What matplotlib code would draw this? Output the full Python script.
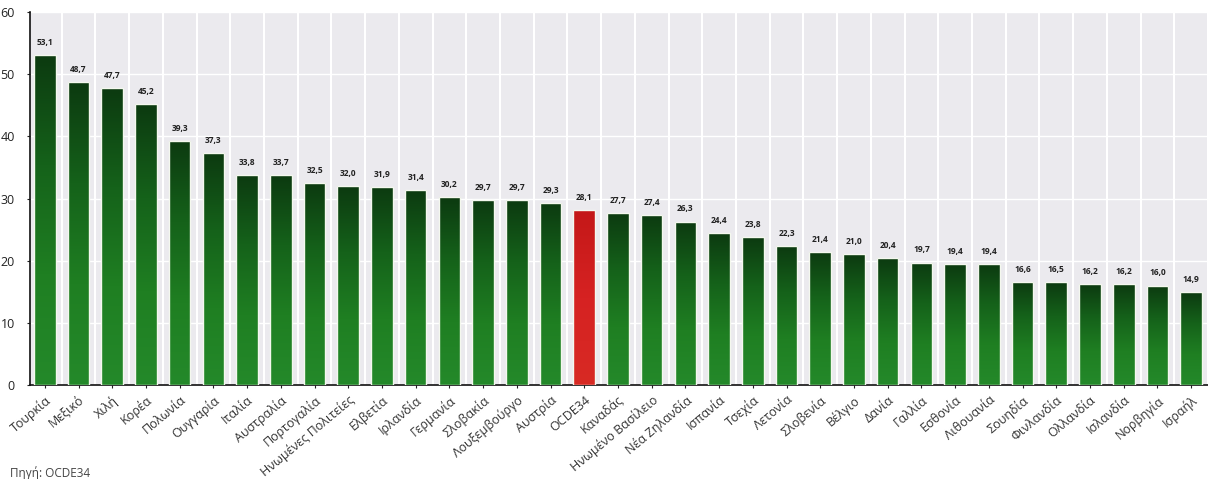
import matplotlib
matplotlib.use("Agg")
import matplotlib.pyplot as plt
import numpy as np
from matplotlib.colors import LinearSegmentedColormap

countries = ["Τουρκία", "Μεξικό", "Χιλή", "Κορέα", "Πολωνία", "Ουγγαρία", "Ιταλία",
             "Αυστραλία", "Πορτογαλία", "Ηνωμένες Πολιτείες", "Ελβετία", "Ιρλανδία",
             "Γερμανία", "Σλοβακία", "Λουξεμβούργο", "Αυστρία", "OCDE34", "Καναδάς",
             "Ηνωμένο Βασίλειο", "Νέα Ζηλανδία", "Ισπανία", "Τσεχία", "Λετονία",
             "Σλοβενία", "Βέλγιο", "Δανία", "Γαλλία", "Εσθονία", "Λιθουανία",
             "Σουηδία", "Φινλανδία", "Ολλανδία", "Ισλανδία", "Νορβηγία", "Ισραήλ"]
values = [53.1, 48.7, 47.7, 45.2, 39.3, 37.3, 33.8, 33.7, 32.5, 32.0, 31.9, 31.4,
          30.2, 29.7, 29.7, 29.3, 28.1, 27.7, 27.4, 26.3, 24.4, 23.8, 22.3, 21.4,
          21.0, 20.4, 19.7, 19.4, 19.4, 16.6, 16.5, 16.2, 16.2, 16.0, 14.9]
value_labels = ["53,1", "48,7", "47,7", "45,2", "39,3", "37,3", "33,8", "33,7", "32,5",
                "32,0", "31,9", "31,4", "30,2", "29,7", "29,7", "29,3", "28,1", "27,7",
                "27,4", "26,3", "24,4", "23,8", "22,3", "21,4", "21,0", "20,4", "19,7",
                "19,4", "19,4", "16,6", "16,5", "16,2", "16,2", "16,0", "14,9"]
highlight = "OCDE34"
yticks = [0, 10, 20, 30, 40, 50, 60]
ytick_labels = ["0", "10", "20", "30", "40", "50", "60"]
source = "Πηγή: OCDE34"

plt.rcParams['font.family'] = ['Open Sans', 'DejaVu Sans']

fig = plt.figure(figsize=(12.08, 4.79), dpi=100)
fig.patch.set_facecolor("white")
ax = fig.add_axes([30/1208, (479-385)/479, 1 - 30/1208, (385-12)/479])
ax.set_facecolor("#ebeaee")

x = np.arange(len(countries))
bars = ax.bar(x, values, width=0.64, color="#145c16", edgecolor="#f4f8ee",
              linewidth=1.0, zorder=3)

green_cmap = LinearSegmentedColormap.from_list("g", ["#0c3a10", "#15621a", "#1f7f22", "#24892a"])
red_cmap = LinearSegmentedColormap.from_list("r", ["#c41818", "#d62222", "#d82a24"])
grad = np.linspace(0, 1, 256).reshape(-1, 1)
for b, c in zip(bars, countries):
    x0, w, h = b.get_x(), b.get_width(), b.get_height()
    cm = red_cmap if c == highlight else green_cmap
    im = ax.imshow(grad, cmap=cm, aspect="auto", extent=[x0, x0 + w, 0, h],
                   origin="upper", zorder=3.5)
    im.set_clip_path(b)
    b.set_facecolor("none")
    b.set_zorder(4)

for xi, v, lab in zip(x, values, value_labels):
    ax.text(xi, v + 1.3, lab, ha="center", va="bottom", fontsize=6,
            fontweight="bold", color="#222222", zorder=5)

ax.set_xlim(-0.44, 34.15)
ax.set_ylim(0, 60)
ax.set_yticks(yticks)
ax.set_yticklabels(ytick_labels, fontsize=9, color="#222222")
ax.set_xticks(x)
ax.set_xticklabels(countries, rotation=40, ha="right", rotation_mode="anchor",
                   fontsize=9, color="#333333")
ax.tick_params(axis="x", length=2, pad=4, color="#222222")
ax.tick_params(axis="y", length=2, pad=9, color="#222222")

ax.set_xticks(x + 0.5, minor=True)
ax.grid(which="minor", axis="x", color="white", linewidth=1.5, zorder=1)
ax.grid(which="major", axis="y", color="white", linewidth=1.0, zorder=1)
ax.tick_params(which="minor", length=0)

for s in ["top", "right"]:
    ax.spines[s].set_visible(False)
ax.spines["left"].set_color("#111111")
ax.spines["bottom"].set_color("#111111")
ax.spines["left"].set_linewidth(1.2)
ax.spines["bottom"].set_linewidth(1.2)

fig.text(10/1208, 1 - 477/479, source, fontsize=8.5, color="#444444", ha="left", va="baseline")

fig.savefig("out.png", dpi=100)
